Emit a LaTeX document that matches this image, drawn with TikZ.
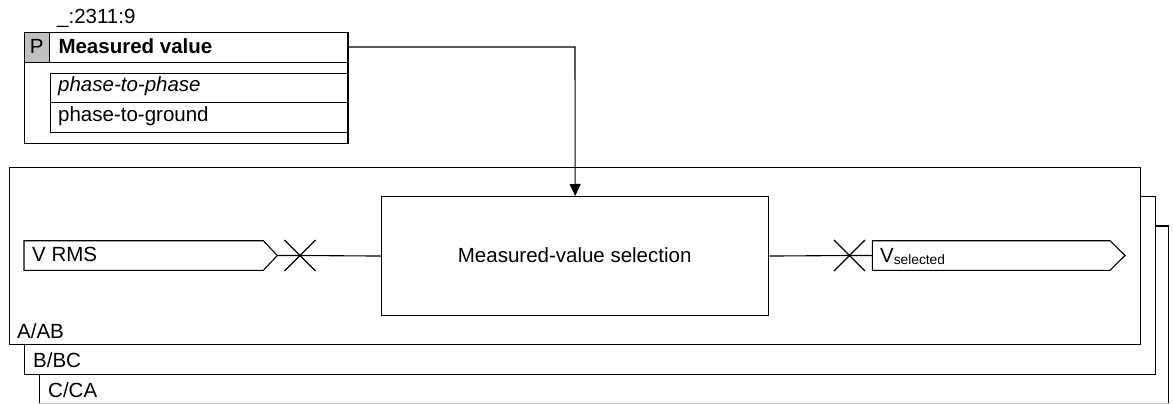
\documentclass[tikz,border=0pt]{standalone}
\usepackage{fontspec}
\setmainfont{Liberation Sans}
\usetikzlibrary{arrows.meta,shapes.misc}
\definecolor{pgray}{RGB}{192,192,192}
\definecolor{edgegray}{RGB}{200,200,200}
\tikzset{
  ln/.style={line width=1.1pt, draw=black},
  box/.style={ln, rectangle, inner sep=0pt, anchor=north west},
  txt/.style={font=\fontsize{20.5}{24}\selectfont, inner sep=0pt, anchor=base west},
  xmark/.style={ln, cross out, minimum width=30pt, minimum height=30pt, inner sep=0pt},
  frame/.style={ln, fill=white}
}
\begin{document}
\begin{tikzpicture}[x=1pt,y=-1pt]
\useasboundingbox (0,0) rectangle (1173,404);
% stacked frames (back to front)
\fill[white] (39.3,226) rectangle (1168.7,403.5);
\draw[ln] (39.3,403.5) -- (39.3,226) -- (1168.7,226) -- (1168.7,403.5);
\draw[line width=1.1pt, draw=edgegray] (39.3,403.5) -- (1168.7,403.5);
\node[txt] (cca) at (48,397) {C/CA};
\node[box, frame, minimum width=1130.7pt, minimum height=178.3pt] (fbc) at (24.3,196) {};
\node[txt] (bbc) at (33,367.3) {B/BC};
\node[box, frame, minimum width=1130.7pt, minimum height=177.6pt] (fab) at (9.3,166.7) {};
\node[txt] (aab) at (17,338) {A/AB};
% parameter box
\node[txt] (pid) at (57,24) {\_:2311:9};
\node[box, minimum width=323.4pt, minimum height=111pt] (param) at (24,32.3) {};
\node[box, fill=pgray, minimum width=25.3pt, minimum height=30pt] (pcell) at (24,32.3) {};
\node[txt, anchor=base] (pl) at (36.6,53.3) {P};
\draw[ln] (24,62.3) -- (347.4,62.3);
\node[txt, font=\fontsize{20.5}{24}\selectfont\bfseries] (phdr) at (58.3,53.3) {Measured value};
\node[box, minimum width=297.4pt, minimum height=29.6pt] (r1) at (50,72.7) {};
\node[box, minimum width=297.4pt, minimum height=30pt] (r2) at (50,102.3) {};
\node[txt, font=\fontsize{20.5}{24}\selectfont\itshape] (p2p) at (58,91.7) {phase-to-phase};
\node[txt] (p2g) at (58,121.7) {phase-to-ground};
% main function block
\node[box, minimum width=387.3pt, minimum height=119pt] (sel) at (381,196) {};
\node[txt, anchor=base] (seltxt) at (574.7,262.3) {Measured-value selection};
% input signal
\coordinate (vrmsTip) at (277.3,255.5);
\draw[ln] (24,240.7) -- (263.3,240.7) -- (vrmsTip) -- (263.3,270.3) -- (24,270.3) -- cycle;
\node[txt] (vrms) at (32,261.7) {V RMS};
\node[xmark] (x1) at (300,255.5) {};
% output signal
\coordinate (voutL) at (872.3,255.5);
\draw[ln] (voutL) -- (872.3,240.7) -- (1110,240.7) -- (1125,255.5) -- (1110,270.3) -- (872.3,270.3) -- cycle;
\node[txt] (vsel) at (880,262) {V\raisebox{-2.5pt}{\fontsize{13.7}{16}\selectfont selected}};
\node[xmark] (x2) at (849.5,255.5) {};
% connectors
\draw[ln] (vrmsTip) -- (x1.center) -- (sel.west);
\draw[ln] (sel.east) -- (x2.center) -- (voutL);
\draw[ln, -{Triangle[length=12pt,width=11pt]}] (param.north east |- pl.base) ++(0,-6.3) -- (575,47) -- (sel.north);
\end{tikzpicture}
\end{document}
